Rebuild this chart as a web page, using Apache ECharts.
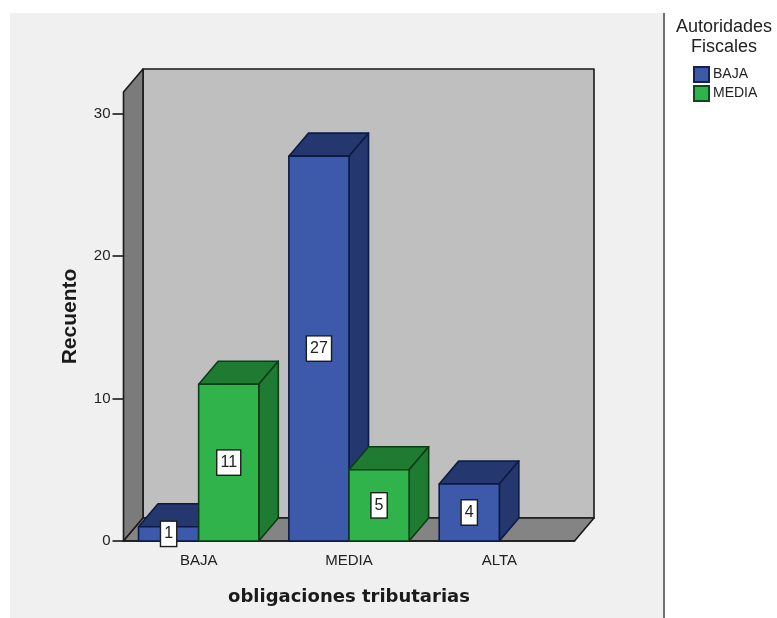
<!DOCTYPE html>
<html>
<head>
<meta charset="utf-8">
<style>html,body{margin:0;padding:0;background:#fff}#chart{width:777px;height:618px}</style>
<script src="https://cdn.jsdelivr.net/npm/echarts@6/dist/echarts.min.js"></script>
</head>
<body>
<div id="chart"></div>
<script>
const categories = ['BAJA', 'MEDIA', 'ALTA'];
const baja = [1, 27, 4];
const media = [11, 5, null];
const valueTicks = [0, 10, 20, 30];
const axisMax = 31.5;

// Offset of the back plane from the front plane, in pixels
const DX = 19.5, DY = -23;
const LINE = '#1a1a1a';
const SANS = '"Liberation Sans", Arial, sans-serif';

function poly(points, fill, stroke) {
  return { type: 'polygon', shape: { points }, style: { fill, stroke, lineWidth: 1.6, lineJoin: 'round' } };
}

function renderFrame(params) {
  const c = params.coordSys;
  const l = c.x, r = c.x + c.width, t = c.y, b = c.y + c.height;
  return {
    type: 'group',
    children: [
      poly([[l + DX, t + DY], [r + DX, t + DY], [r + DX, b + DY], [l + DX, b + DY]], '#bfbfbf', LINE),
      poly([[l, t], [l + DX, t + DY], [l + DX, b + DY], [l, b]], '#7b7b7b', LINE),
      poly([[l, b], [r, b], [r + DX, b + DY], [l + DX, b + DY]], '#848484', LINE)
    ]
  };
}

// Builds a box-shaped bar whose front face sits on the given side of the category tick
function boxRenderer(side, front, dark, edge) {
  return function (params, api) {
    const v = api.value(1);
    if (v == null || isNaN(v)) return null;
    const base = api.coord([api.value(0), 0]);
    const tip = api.coord([api.value(0), v]);
    const w = api.size([1, 0])[0] * 0.4;
    const x0 = side < 0 ? base[0] - w : base[0];
    const x1 = x0 + w;
    const y0 = tip[1], y1 = base[1];
    return {
      type: 'group',
      children: [
        poly([[x0, y0], [x1, y0], [x1 + DX, y0 + DY], [x0 + DX, y0 + DY]], dark, edge),
        poly([[x1, y0], [x1 + DX, y0 + DY], [x1 + DX, y1 + DY], [x1, y1]], dark, edge),
        poly([[x0, y0], [x1, y0], [x1, y1], [x0, y1]], front, edge),
        {
          type: 'text',
          z2: 10,
          style: {
            x: (x0 + x1) / 2,
            y: (y0 + y1) / 2,
            text: String(v),
            align: 'center',
            verticalAlign: 'middle',
            font: '16px ' + SANS,
            fill: '#222',
            backgroundColor: '#fff',
            borderColor: '#1c1c1c',
            borderWidth: 1.4,
            padding: [4, 3, 4, 3]
          }
        }
      ]
    };
  };
}

const chart = echarts.init(document.getElementById('chart'), null, { renderer: 'canvas' });
chart.setOption({
  animation: false,
  backgroundColor: '#fff',
  grid: { left: 123.5, top: 92, width: 451, height: 449, containLabel: false },
  graphic: [
    { type: 'rect', z: -10, shape: { x: 10, y: 13, width: 654, height: 605 }, style: { fill: '#f0f0f0' } },
    { type: 'rect', z: -9, shape: { x: 663, y: 13, width: 2, height: 605 }, style: { fill: '#707070' } }
  ],
  title: {
    text: 'Autoridades\nFiscales',
    left: 719,
    top: 12,
    textAlign: 'center',
    textStyle: { fontFamily: SANS, fontSize: 18, fontWeight: 'normal', color: '#222', lineHeight: 20 }
  },
  legend: {
    orient: 'vertical',
    left: 688,
    top: 61,
    icon: 'rect',
    itemWidth: 15,
    itemHeight: 15,
    itemGap: 2,
    data: ['BAJA', 'MEDIA'],
    textStyle: { fontFamily: SANS, fontSize: 14, color: '#222', padding: [0, 0, 0, -1] }
  },
  xAxis: {
    type: 'category',
    data: categories,
    z: 3,
    name: 'obligaciones tributarias',
    nameLocation: 'middle',
    nameGap: 47,
    nameTextStyle: { fontFamily: '"DejaVu Sans", Verdana, sans-serif', fontSize: 18, fontWeight: 'bold', color: '#1a1a1a' },
    axisTick: { alignWithLabel: true, length: 10, lineStyle: { color: LINE, width: 1.6 } },
    axisLine: { lineStyle: { color: LINE, width: 1.6 } },
    axisLabel: { margin: 12, fontFamily: SANS, fontSize: 15, color: '#222' }
  },
  yAxis: {
    type: 'value',
    min: 0,
    max: axisMax,
    name: 'Recuento',
    nameLocation: 'middle',
    nameGap: 43,
    nameTextStyle: { fontFamily: SANS, fontSize: 21, fontWeight: 'bold', color: '#1a1a1a' },
    splitLine: { show: false },
    axisLine: { show: true, lineStyle: { color: LINE, width: 1.6 } },
    axisTick: { show: true, length: 11, customValues: valueTicks, lineStyle: { color: LINE, width: 1.6 } },
    axisLabel: { margin: 13, customValues: valueTicks, fontFamily: SANS, fontSize: 15, color: '#222' }
  },
  series: [
    { type: 'custom', name: 'frame', z: 1, clip: false, silent: true, renderItem: renderFrame, data: [[0, 0]], encode: { x: 0, y: 1 } },
    {
      type: 'custom', name: 'BAJA', z: 4, clip: false,
      itemStyle: { color: '#3d59a9', borderColor: '#14224f', borderWidth: 1.4 },
      renderItem: boxRenderer(-1, '#3d59a9', '#25376f', '#0d1a45'),
      encode: { x: 0, y: 1 },
      data: baja.map((v, i) => [i, v])
    },
    {
      type: 'custom', name: 'MEDIA', z: 5, clip: false,
      itemStyle: { color: '#2fb34a', borderColor: '#10481d', borderWidth: 1.4 },
      renderItem: boxRenderer(1, '#2fb34a', '#1f7a32', '#0c3d17'),
      encode: { x: 0, y: 1 },
      data: media.map((v, i) => [i, v])
    }
  ]
});
</script>
</body>
</html>
